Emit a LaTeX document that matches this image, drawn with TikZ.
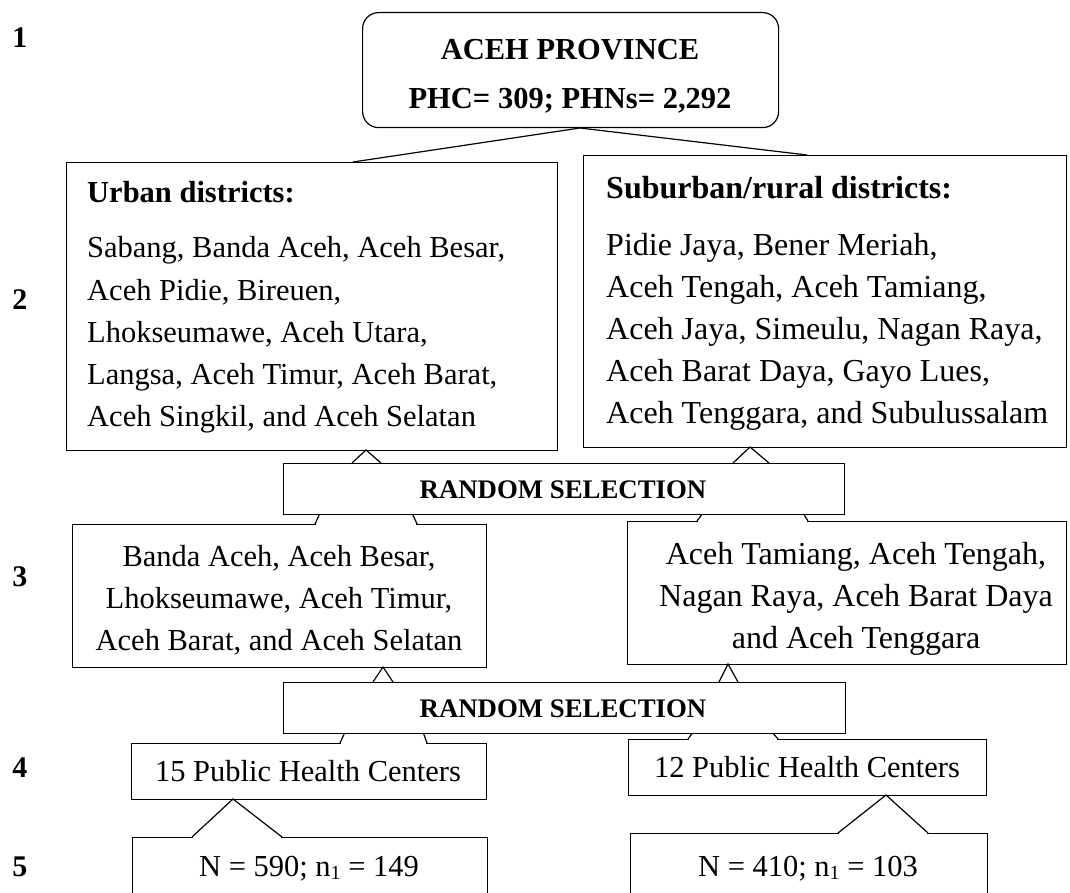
\documentclass[tikz,border=0pt]{standalone}
\usepackage{fontspec}
\setmainfont{Liberation Serif}
\begin{document}
\begin{tikzpicture}[x=1pt,y=-1pt,
  lw/.style={line width=1.2pt},
  box/.style={lw, draw, fill=white, rectangle, inner sep=0pt, anchor=north west},
  txt/.style={inner sep=0pt, font=\fontsize{30.5pt}{36pt}\selectfont},
  btxt/.style={inner sep=0pt, font=\fontsize{30.5pt}{36pt}\selectfont\bfseries},
  rtxtw/.style={inner sep=0pt, font=\fontsize{32pt}{36pt}\selectfont},
  rbtxtw/.style={inner sep=0pt, font=\fontsize{32pt}{36pt}\selectfont\bfseries},
  rtxt/.style={inner sep=0pt, font=\fontsize{26.8pt}{30pt}\selectfont\bfseries},
  lvl/.style={inner sep=0pt, font=\fontsize{30pt}{36pt}\selectfont\bfseries},
  ptr/.style={lw, line join=miter},
  gap/.style={fill=white}]
\useasboundingbox (0,0) rectangle (1070,893);

% level labels
\node[lvl] (l1) at (20,38) {1};
\node[lvl] (l2) at (20,300) {2};
\node[lvl] (l3) at (20,577) {3};
\node[lvl] (l4) at (20,768) {4};
\node[lvl] (l5) at (20,867) {5};

% level 1
\node[box, rounded corners=16pt, minimum width=416pt, minimum height=115pt] (prov) at (362,12) {};
\node[btxt, anchor=base] (provA) at (570,60) {ACEH PROVINCE};
\node[btxt, anchor=base] (provB) at (570,109) {PHC= 309; PHNs= 2,292};

% level 2
\node[box, minimum width=491pt, minimum height=288pt] (urban) at (66,162) {};
\node[box, minimum width=483pt, minimum height=292pt] (rural) at (583,155) {};
\coordinate (apx1) at (580,128);
\coordinate (uL) at (353,162);
\coordinate (rR) at (807,155);
\draw[ptr] (uL) -- (apx1) -- (rR);

\node[btxt, anchor=base west] (u0) at (87,203) {Urban districts:};
\node[txt, anchor=base west] (u1) at (87,258) {Sabang, Banda Aceh, Aceh Besar,};
\node[txt, anchor=base west] (u2) at (87,300) {Aceh Pidie, Bireuen,};
\node[txt, anchor=base west] (u3) at (87,342) {Lhokseumawe, Aceh Utara,};
\node[txt, anchor=base west] (u4) at (87,384) {Langsa, Aceh Timur, Aceh Barat,};
\node[txt, anchor=base west] (u5) at (87,426) {Aceh Singkil, and Aceh Selatan};

\node[rbtxtw, anchor=base west] (r0) at (606,199) {Suburban/rural districts:};
\node[rtxtw, anchor=base west] (r1) at (606,255) {Pidie Jaya, Bener Meriah,};
\node[rtxtw, anchor=base west] (r2) at (606,297) {Aceh Tengah, Aceh Tamiang,};
\node[rtxtw, anchor=base west] (r3) at (606,339) {Aceh Jaya, Simeulu, Nagan Raya,};
\node[rtxtw, anchor=base west] (r4) at (606,381) {Aceh Barat Daya, Gayo Lues,};
\node[rtxtw, anchor=base west] (r5) at (606,423) {Aceh Tenggara, and Subulussalam};

% level 3
\node[box, minimum width=414pt, minimum height=143pt] (selU) at (72,524) {};
\node[box, minimum width=439pt, minimum height=143pt] (selR) at (627,521) {};
\fill[gap] (316,522) rectangle (416,526);
\fill[gap] (698,519) rectangle (807,523);
\draw[ptr] (315,524) -- (320,513);
\draw[ptr] (417,524) -- (412,513);
\draw[ptr] (697,521) -- (703,513);
\draw[ptr] (808,521) -- (803,513);

\node[txt, anchor=base] (s1) at (279,566) {Banda Aceh, Aceh Besar,};
\node[txt, anchor=base] (s2) at (279,608) {Lhokseumawe, Aceh Timur,};
\node[txt, anchor=base] (s3) at (279,650) {Aceh Barat, and Aceh Selatan};
\node[rtxtw, anchor=base] (t1) at (856,564) {Aceh Tamiang, Aceh Tengah,};
\node[rtxtw, anchor=base] (t2) at (856,606) {Nagan Raya, Aceh Barat Daya};
\node[rtxtw, anchor=base] (t3) at (856,648) {and Aceh Tenggara};

% random selection 1
\node[box, minimum width=561pt, minimum height=51pt] (rs1) at (283,463) {};
\node[rtxt, anchor=base] (rs1t) at (563,498) {RANDOM SELECTION};
\coordinate (a2u) at (366,450);
\coordinate (a2r) at (750,447);
\draw[ptr] (352,463) -- (a2u) -- (381,463);
\draw[ptr] (733,463) -- (a2r) -- (769,463);

% level 4
\node[box, minimum width=355pt, minimum height=56pt] (phcU) at (131,743) {};
\node[box, minimum width=358pt, minimum height=56pt] (phcR) at (628,739) {};
\fill[gap] (341,741) rectangle (426,745);
\fill[gap] (689,737) rectangle (777,741);
\draw[ptr] (340,743) -- (345,732);
\draw[ptr] (427,743) -- (423,732);
\draw[ptr] (688,739) -- (693,732);
\draw[ptr] (778,739) -- (772,732);
\node[txt, anchor=base] (p1) at (308,781) {15 Public Health Centers};
\node[txt, anchor=base] (p2) at (807,777) {12 Public Health Centers};

% random selection 2
\node[box, minimum width=562pt, minimum height=51pt] (rs2) at (283,682) {};
\node[rtxt, anchor=base] (rs2t) at (563,717) {RANDOM SELECTION};
\coordinate (a3u) at (383,667);
\coordinate (a3r) at (728,664);
\draw[ptr] (373,682) -- (a3u) -- (393,682);
\draw[ptr] (719,682) -- (a3r) -- (738,682);

% level 5
\node[box, minimum width=355pt, minimum height=80pt] (nU) at (132,837) {};
\node[box, minimum width=357pt, minimum height=80pt] (nR) at (630,833) {};
\fill[gap] (193,835) rectangle (281,839);
\fill[gap] (839,831) rectangle (927,835);
\coordinate (a4u) at (233,799);
\coordinate (a4r) at (886,795);
\draw[ptr] (192,837) -- (a4u) -- (282,837);
\draw[ptr] (838,833) -- (a4r) -- (928,833);
\node[txt, anchor=base] (n1) at (309,876) {N = 590; n\raisebox{-0.28ex}{\fontsize{20pt}{20pt}\selectfont 1} = 149};
\node[txt, anchor=base] (n2) at (808,876) {N = 410; n\raisebox{-0.28ex}{\fontsize{20pt}{20pt}\selectfont 1} = 103};
\end{tikzpicture}
\end{document}
